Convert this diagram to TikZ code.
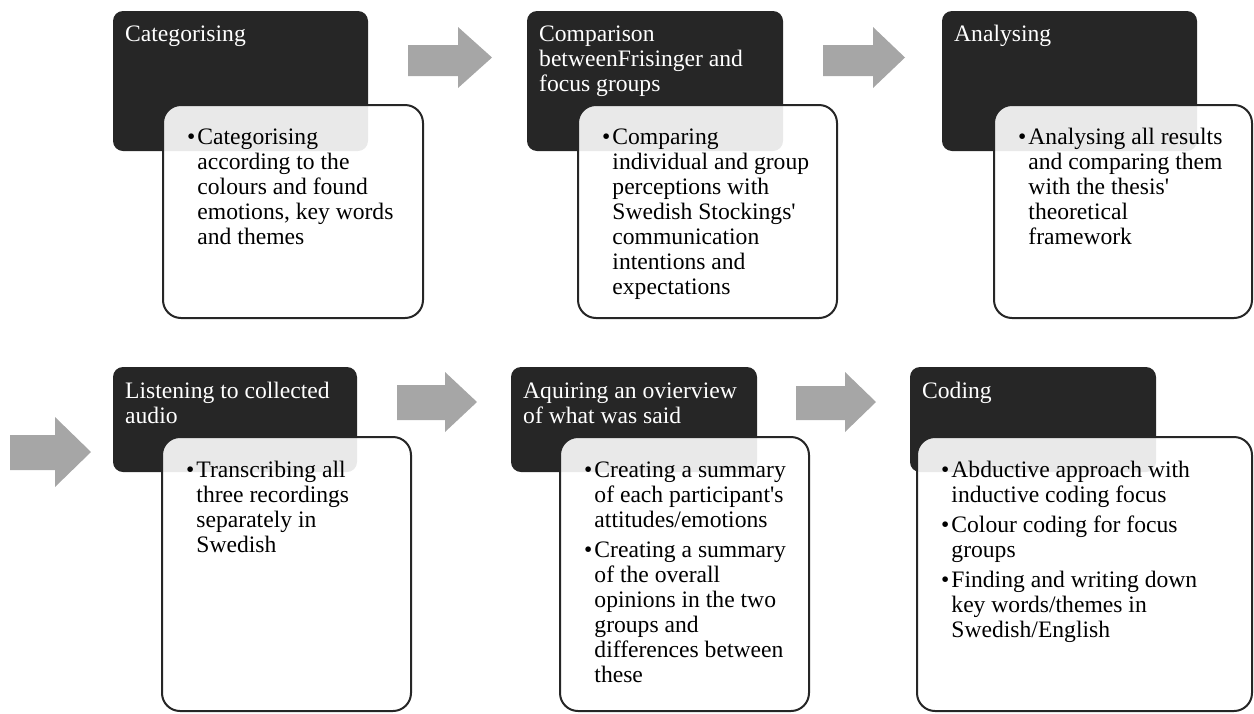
\documentclass[tikz,border=0pt]{standalone}
\usepackage{fontspec}
\setmainfont{Liberation Serif}[Ligatures=TeXOff]
\definecolor{boxdark}{HTML}{262626}
\definecolor{arrowgray}{HTML}{A6A6A6}
\newcommand{\mylines}[1]{\begin{tabular}{@{}l@{}}#1\end{tabular}}
\newcommand{\mybullets}[1]{\begin{tabular}{@{}l@{\hspace{2pt}}l@{}}#1\end{tabular}}
\begin{document}
\begin{tikzpicture}[x=1pt,y=-1pt,
  darkbox/.style={fill=boxdark, rounded corners=10pt},
  lightbox/.style={draw=boxdark, line width=2pt, fill=white, fill opacity=0.9, rounded corners=18pt},
  blockarrow/.style={fill=arrowgray},
  titletext/.style={anchor=north west, inner sep=0pt, text=white, font=\fontsize{23.6}{25}\selectfont},
  bodytext/.style={anchor=north west, inner sep=0pt, text=black, font=\fontsize{23.6}{25}\selectfont}]
\useasboundingbox (0,0) rectangle (1254,713);

% ---------- top row ----------
\path[darkbox] (113,11) rectangle (368,151);
\path[lightbox] (163,105) rectangle (423,318);
\node[titletext] (t1) at (125,24) {\mylines{Categorising}};
\node[bodytext] (b1) at (187,126.5) {\mybullets{\textbullet & Categorising\\ & according to the\\ & colours and found\\ & emotions, key words\\ & and themes}};

\path[darkbox] (527,11) rectangle (783,151);
\path[lightbox] (578,105) rectangle (837,318);
\node[titletext] (t2) at (539,24) {\mylines{Comparison\\betweenFrisinger and\\focus groups}};
\node[bodytext] (b2) at (602,126.5) {\mybullets{\textbullet & Comparing\\ & individual and group\\ & perceptions with\\ & Swedish Stockings'\\ & communication\\ & intentions and\\ & expectations}};

\path[darkbox] (942,11) rectangle (1197,151);
\path[lightbox] (994,105) rectangle (1252,318);
\node[titletext] (t3) at (954,24) {\mylines{Analysing}};
\node[bodytext] (b3) at (1018,126.5) {\mybullets{\textbullet & Analysing all results\\ & and comparing them\\ & with the thesis'\\ & theoretical\\ & framework}};

\path[blockarrow] (408,45) -- (458,45) -- (458,27) -- (492,57.5) -- (458,88) -- (458,76) -- (408,76) -- cycle;
\path[blockarrow] (823,45) -- (873,45) -- (873,27) -- (905,57.5) -- (873,88) -- (873,76) -- (823,76) -- cycle;

% ---------- bottom row ----------
\path[blockarrow] (10,435) -- (55,435) -- (55,417) -- (91,452) -- (55,487) -- (55,470) -- (10,470) -- cycle;

\path[darkbox] (113,367) rectangle (357,472);
\path[lightbox] (162,437) rectangle (411,711);
\node[titletext] (t4) at (125,380.5) {\mylines{Listening to collected\\audio}};
\node[bodytext] (b4) at (186,459.5) {\mybullets{\textbullet & Transcribing all\\ & three recordings\\ & separately in\\ & Swedish}};

\path[blockarrow] (397,385) -- (445,385) -- (445,372) -- (477,402) -- (445,432) -- (445,420) -- (397,420) -- cycle;

\path[darkbox] (511,367) rectangle (757,472);
\path[lightbox] (560,437) rectangle (809,711);
\node[titletext] (t5) at (523,380.5) {\mylines{Aquiring an ovierview\\of what was said}};
\node[bodytext] (b5) at (584,459.5) {\mybullets{\textbullet & Creating a summary\\ & of each participant's\\ & attitudes/emotions\\[5.5pt]
\textbullet & Creating a summary\\ & of the overall\\ & opinions in the two\\ & groups and\\ & differences between\\ & these}};

\path[blockarrow] (796,386) -- (845,386) -- (845,372) -- (876,402) -- (845,432) -- (845,420) -- (796,420) -- cycle;

\path[darkbox] (910,367) rectangle (1156,472);
\path[lightbox] (917,437) rectangle (1252,711);
\node[titletext] (t6) at (922,380.5) {\mylines{Coding}};
\node[bodytext] (b6) at (941,459.5) {\mybullets{\textbullet & Abductive approach with\\ & inductive coding focus\\[5pt]
\textbullet & Colour coding for focus\\ & groups\\[5pt]
\textbullet & Finding and writing down\\ & key words/themes in\\ & Swedish/English}};
\end{tikzpicture}
\end{document}
